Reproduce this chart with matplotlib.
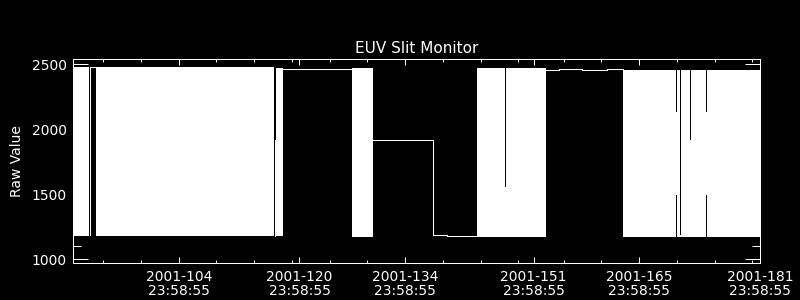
import matplotlib
matplotlib.use('Agg')
import numpy as np
import matplotlib.pyplot as plt
from matplotlib.ticker import FixedLocator, MultipleLocator

# Time axis is fractional day-of-year 2001.
# Dense stretches of the signal cannot be resolved at this size, so they are kept
# as their envelope: start/end day, lowest and highest raw value in that stretch.
env_start = [90.96, 93.22, 94.04, 117.76, 117.95, 127.92, 144.55, 148.20, 148.35,
             163.89, 170.82, 170.97, 171.39, 171.54, 172.70, 172.85, 174.83, 174.98]
env_end = [93.12, 93.36, 117.62, 117.90, 118.82, 130.70, 148.20, 148.35, 153.65,
           170.82, 170.97, 171.39, 171.54, 172.70, 172.85, 174.83, 174.98, 182.0]
env_lo = [1180, 1180, 1180, 1175, 1178, 1175, 1174, 1174, 1174,
          1174, 1495, 1174, 1174, 1174, 1174, 1174, 1495, 1174]
env_hi = [2480, 2482, 2478, 1918, 2475, 2470, 2468, 1558, 2468,
          2458, 2135, 2458, 1185, 2458, 1920, 2458, 2135, 2458]

# Quiet stretches where the value holds steady
flat_start = [93.36, 118.82, 130.70, 138.73, 140.50, 153.65, 155.38, 158.42, 161.74, 163.89]
flat_end = [94.04, 127.92, 138.73, 140.50, 144.55, 155.38, 158.42, 161.74, 163.89, 163.89]
flat_level = [2482, 2462, 1920, 1185, 1178, 2452, 2460, 2452, 2460, 1905]

# Labelled ticks
tick_days = [104, 120, 134, 151, 165, 181]
tick_time = '23:58:55'
minor_days = [95, 100, 105, 110, 115, 120, 125, 130, 135, 140, 145, 150,
              156, 161, 171, 176, 181]


def time_to_frac(s):
    h, m, sec = [int(v) for v in s.split(':')]
    return (h * 3600 + m * 60 + sec) / 86400.0


fig = plt.figure(figsize=(8, 3), dpi=100, facecolor='black')
ax = fig.add_axes([0.0909, 0.1223, 0.8591, 0.68], facecolor='black')

for a, b, lo, hi in zip(env_start, env_end, env_lo, env_hi):
    ax.fill_between([a, b], [lo, lo], [hi, hi], color='white', lw=0,
                    antialiased=False, zorder=2)

# join contiguous flat stretches, break the line where a dense stretch sits between
xs, ys = [], []
for i, (a, b, lev) in enumerate(zip(flat_start, flat_end, flat_level)):
    if i > 0 and abs(a - flat_end[i - 1]) > 1e-6:
        xs.append(np.nan)
        ys.append(np.nan)
    xs += [a, b]
    ys += [lev, lev]
ax.plot(xs, ys, color='white', lw=0.6, antialiased=False, zorder=3)

frac = time_to_frac(tick_time)
ax.set_xlim(90.96, 182.0)
ax.set_ylim(969, 2538)
ax.xaxis.set_major_locator(FixedLocator([d + frac for d in tick_days]))
ax.set_xticklabels([f'2001-{d:03d}\n{tick_time}' for d in tick_days],
                   linespacing=1.05)
ax.xaxis.set_minor_locator(FixedLocator(minor_days))
ax.yaxis.set_major_locator(MultipleLocator(500))
ax.yaxis.set_minor_locator(MultipleLocator(100))

for s in ax.spines.values():
    s.set_color('white')
    s.set_linewidth(0.72)

ax.tick_params(axis='both', which='both', direction='in', colors='white',
               top=True, right=True, width=0.72, labelsize=10)
ax.tick_params(axis='x', which='major', length=4.3, pad=4.5)
ax.tick_params(axis='x', which='minor', length=2.4)
ax.tick_params(axis='y', which='major', length=10.5, pad=4.3)
ax.tick_params(axis='y', which='minor', length=5.5)

ax.set_title('EUV Slit Monitor', color='white', fontsize=11, pad=4.7)
ax.set_ylabel('Raw Value', color='white', fontsize=10)
ax.yaxis.set_label_coords(-0.071, 0.5)

fig.savefig('out.png', dpi=100, facecolor='black')
